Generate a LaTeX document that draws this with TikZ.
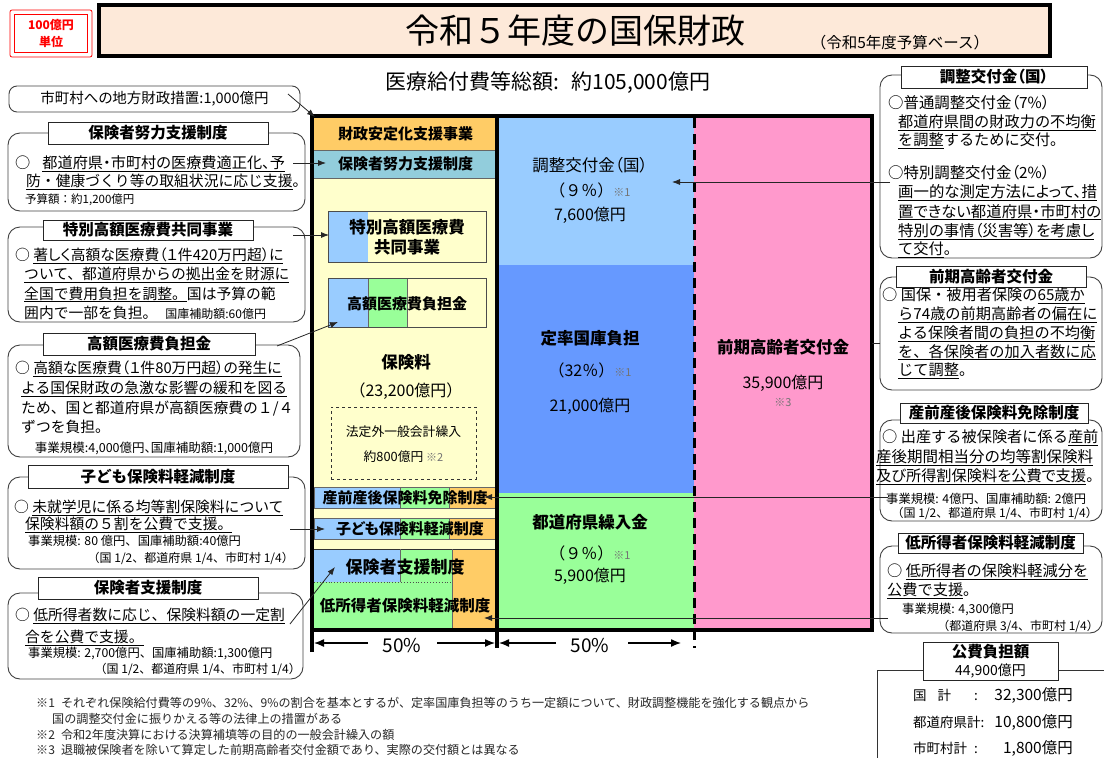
\documentclass[tikz,border=0pt]{standalone}
\usepackage{fontspec}
\setmainfont{Noto Sans CJK JP}
\newfontfamily\pfont{Noto Sans CJK JP}[RawFeature=+palt]
\usetikzlibrary{arrows.meta}
\newcommand\fs[1]{\fontsize{#1}{#1}\selectfont}
\newcommand\undl[1]{\underline{#1}}
\newcommand\kome[1]{{\color{black!55}\fs{11}※#1}}
\definecolor{peach}{HTML}{FDE9D9}
\definecolor{orng}{HTML}{FFCC66}
\definecolor{teal1}{HTML}{92CDDC}
\definecolor{ylw}{HTML}{FFFFCC}
\definecolor{lblue}{HTML}{99CCFF}
\definecolor{mblue}{HTML}{6699FF}
\definecolor{grn}{HTML}{99FF99}
\definecolor{pnk}{HTML}{FF99CC}
\tikzset{
  bt/.style={inner sep=0pt, anchor=base west, font=\fs{14.8}},
  rt/.style={inner sep=0pt, anchor=base west, font=\fs{15.2}},
  rtp/.style={inner sep=0pt, anchor=base west, font=\pfont\fs{15.4}},
  st/.style={inner sep=0pt, anchor=base west, font=\fs{12.3}},
  ste/.style={inner sep=0pt, anchor=base east, font=\fs{12}},
  rbox/.style={draw=black!75, line width=0.9pt, rounded corners=12pt, inner sep=0pt},
  tbox/.style={draw=black!85, line width=0.9pt, fill=white, inner sep=0pt, font=\bfseries\fs{15.5}},
  colt/.style={inner sep=0pt, font=\fs{16}},
  colh/.style={inner sep=0pt, font=\bfseries\fs{16.5}},
  bandt/.style={inner sep=0pt, font=\bfseries\pfont\fs{15}},
  conn/.style={draw=black!85, line width=0.8pt, -{Latex[length=8pt,width=6pt]}},
  seg/.style={draw=black!60, line width=0.6pt},
  note/.style={inner sep=0pt, anchor=base west, font=\fs{12.1}, text=black!85},
  pt/.style={inner sep=0pt, anchor=base west, font=\fs{13.5}},
  pv/.style={inner sep=0pt, anchor=base east, font=\fs{15.5}},
}
\begin{document}
\begin{tikzpicture}[x=1pt,y=-1pt]
\useasboundingbox (0,0) rectangle (1104,758);

% ---- unit box
\draw[red, line width=0.8pt, rounded corners=2pt] (10,10) rectangle (92,57);
\node[draw=red, line width=1.8pt, minimum width=73, minimum height=38, inner sep=0pt, text=red,
      font=\bfseries\fontsize{12}{17}\selectfont, align=center] (unit) at (51,33.5) {100億円\\単位};

% ---- title
\node[draw, line width=4pt, fill=peach, minimum width=951, minimum height=51, inner sep=0pt] (titlebox) at (574.5,30.5) {};
\node[inner sep=0pt, font=\fs{34}] (title) at (575,31) {令和５年度の国保財政};
\node[inner sep=0pt, font=\fs{15.5}] (subt) at (900,43) {（令和5年度予算ベース）};
\node[inner sep=0pt, font=\fs{21}] (total) at (548,83) {医療給付費等総額:\hspace{12pt}約105,000億円};

% ---- left column fills
\fill[ylw] (314,178) rectangle (497,628);
\node[bandt, fill=orng, minimum width=183, minimum height=33] (zaisei) at (405.5,133.5) {財政安定化支援事業};
\node[bandt, fill=teal1, minimum width=183, minimum height=28] (doryoku) at (405.5,164) {保険者努力支援制度};
\draw[seg] (314,150) -- (497,150);
\draw[seg] (314,178) -- (497,178);

% special high-cost box
\fill[lblue] (328,211) rectangle (368,262);
\node[draw=black!70, line width=0.8pt, minimum width=158, minimum height=51, inner sep=0pt] (tokubetsu) at (407,236.5) {};
\node[inner sep=0pt, font=\bfseries\fontsize{16.5}{20}\selectfont, align=center] (tokubetsuT) at (407,237) {特別高額医療費\\共同事業};

% high-cost box
\fill[lblue] (328,278) rectangle (368,327);
\fill[grn] (368,278) rectangle (407,327);
\draw[seg] (368,278) -- (368,327);
\draw[seg] (407,278) -- (407,327);
\node[draw=black!70, line width=0.8pt, minimum width=158, minimum height=49, inner sep=0pt] (kougaku) at (407,302.5) {};
\node[inner sep=0pt, font=\bfseries\fs{15}] (kougakuT) at (407,304) {高額医療費負担金};

% premiums
\node[colh] (hokenryo) at (406,362) {保険料};
\node[colt] (hokenryoV) at (406,391) {（23,200億円）};
\node[draw=black!80, dashed, line width=0.8pt, minimum width=145, minimum height=72, inner sep=0pt] (hoteigai) at (403.5,443) {};
\node[inner sep=0pt, font=\fs{12.8}] (hoteigaiT) at (403.5,432) {法定外一般会計繰入};
\node[inner sep=0pt, font=\fs{12.8}] (hoteigaiV) at (403.5,457) {約800億円 \kome{2}};

% band: childbirth
\fill[lblue] (314,487) rectangle (400,508);
\fill[grn] (400,487) rectangle (449,508);
\fill[orng] (449,487) rectangle (497,508);
\draw[seg] (314,487) rectangle (497,508);
\draw[seg] (400,487) -- (400,508);
\draw[seg] (449,487) -- (449,508);
\node[bandt] (sanzen) at (405,498) {産前産後保険料免除制度};

% band: children
\fill[lblue] (314,518) rectangle (400,539);
\fill[grn] (400,518) rectangle (449,539);
\fill[orng] (449,518) rectangle (497,539);
\draw[seg] (314,518) rectangle (497,539);
\draw[seg] (400,518) -- (400,539);
\draw[seg] (449,518) -- (449,539);
\node[bandt] (kodomo) at (410,529) {子ども保険料軽減制度};

% band: insurer support / low income
\fill[lblue] (314,549) rectangle (400,582);
\fill[grn] (400,549) rectangle (452,582);
\fill[grn] (314,582) rectangle (452,628);
\fill[orng] (452,549) rectangle (497,628);
\draw[black!80, line width=0.8pt] (314,549) -- (497,549);
\draw[seg] (400,549) -- (400,582);
\draw[seg] (452,549) -- (452,628);
\draw[black!70, dotted, line width=0.9pt] (314,582) -- (452,582);
\node[inner sep=0pt, font=\bfseries\fs{17}] (shien) at (405,567) {保険者支援制度};
\node[bandt, font=\bfseries\fs{15.5}] (teishotoku) at (405,606) {低所得者保険料軽減制度};

% ---- middle / right column fills
\fill[lblue] (497,116) rectangle (694,265);
\fill[mblue] (497,265) rectangle (694,493);
\fill[grn] (497,493) rectangle (694,628);
\fill[pnk] (694,116) rectangle (872,628);

\node[colh, font=\pfont\fs{16.5}] (chosei) at (590,165) {調整交付金（国）};
\node[colt] (choseiP) at (590,190) {（９％）\kome{1}};
\node[colt] (choseiV) at (590,215) {7,600億円};
\node[colh] (teiritsu) at (590,338) {定率国庫負担};
\node[colt] (teiritsuP) at (590,370) {（32％）\kome{1}};
\node[colt] (teiritsuV) at (590,406) {21,000億円};
\node[colh] (kenkuri) at (590,522) {都道府県繰入金};
\node[colt] (kenkuriP) at (590,553) {（９％）\kome{1}};
\node[colt] (kenkuriV) at (590,576) {5,900億円};
\node[colh] (zenki) at (783,347) {前期高齢者交付金};
\node[colt] (zenkiV) at (783,383) {35,900億円};
\node[inner sep=0pt] (zenkiK) at (783,402) {\kome{3}};

% ---- frame
\draw[line width=4pt] (312,652) -- (312,116) -- (872,116) -- (872,630) -- (310,630);
\draw[line width=4pt] (497,116) -- (497,648);
\draw[line width=3pt, dash pattern=on 10pt off 6pt] (694,118) -- (694,648);

% ---- bottom 50% arrows
\node[inner sep=0pt, font=\fs{19}] (pl) at (402,646) {50\%};
\node[inner sep=0pt, font=\fs{19}] (pr) at (590,646) {50\%};
\coordinate (pla) at (314,643); \coordinate (plb) at (368,643);
\coordinate (plc) at (437,643); \coordinate (pld) at (495,643);
\coordinate (pra) at (499,643); \coordinate (prb) at (556,643);
\coordinate (prc) at (628,643); \coordinate (prd) at (681,643);
\draw[line width=1.3pt, -{Latex[length=10pt,width=8pt]}] (plb) -- (pla);
\draw[line width=1.3pt, -{Latex[length=10pt,width=8pt]}] (plc) -- (pld);
\draw[line width=1.3pt, -{Latex[length=10pt,width=8pt]}] (prb) -- (pra);
\draw[line width=1.3pt, -{Latex[length=10pt,width=8pt]}] (prc) -- (prd);

% ---- left boxes
\node[rbox, rounded corners=8pt, minimum width=291, minimum height=26, font=\pfont\fs{14.5}] (L0) at (154.5,99) {市町村への地方財政措置:1,000億円};

\node[rbox, minimum width=297, minimum height=78] (L1) at (156.5,172) {};
\node[tbox, minimum width=220, minimum height=22] (L1t) at (158,133) {保険者努力支援制度};
\node[bt, font=\pfont\fs{15.2}] (L1a) at (15,168.5) {○\hspace{12pt}\undl{都道府県・市町村の医療費適正化、予}};
\node[bt] (L1b) at (26,186.5) {\undl{防・健康づくり等の取組状況に応じ支援}。};
\node[st, font=\fs{11.5}] (L1c) at (25,203) {予算額：約1,200億円};

\node[rbox, minimum width=297, minimum height=95] (L2) at (156.5,274.5) {};
\node[tbox, minimum width=210, minimum height=20] (L2t) at (148,230) {特別高額医療費共同事業};
\node[bt, font=\pfont\fs{14.8}] (L2a) at (15,260.5) {○ \undl{著しく高額な医療費（１件420万円超）に}};
\node[bt] (L2b) at (24,279.5) {\undl{ついて、都道府県からの拠出金を財源に}};
\node[bt] (L2c) at (24,299) {\undl{全国で費用負担を調整。}国は予算の範};
\node[bt] (L2d) at (24,318.5) {囲内で一部を負担。\hspace{8pt}{\pfont\fs{12}国庫補助額:60億円}};

\node[rbox, minimum width=292, minimum height=112] (L3) at (154,401) {};
\node[tbox, minimum width=212, minimum height=22] (L3t) at (149,344) {高額医療費負担金};
\node[bt, font=\pfont\fs{14.8}] (L3a) at (15,373.5) {○ \undl{高額な医療費（１件80万円超）の発生に}};
\node[bt] (L3b) at (21,393.5) {\undl{よる国保財政の急激な影響の緩和を図る}};
\node[bt] (L3c) at (21,413.5) {ため、国と都道府県が高額医療費の１/４};
\node[bt] (L3d) at (21,432.5) {ずつを負担。};
\node[inner sep=0pt, font=\pfont\fs{12.5}] (L3e) at (154,448) {事業規模:4,000億円、国庫補助額:1,000億円};

\node[rbox, minimum width=297, minimum height=92] (L4) at (156.5,523) {};
\node[tbox, minimum width=260, minimum height=23] (L4t) at (158,476.5) {子ども保険料軽減制度};
\node[bt] (L4a) at (14,512.5) {○ \undl{未就学児に係る均等割保険料について}};
\node[bt] (L4b) at (25,529.5) {\undl{保険料額の５割を公費で支援。}};
\node[st] (L4c) at (28,545.5) {事業規模: 80 億円、国庫補助額:40億円};
\node[ste] (L4d) at (294,562.5) {（国 1/2、都道府県 1/4、市町村 1/4）};

\node[rbox, minimum width=295, minimum height=86] (L5) at (155.5,636) {};
\node[tbox, minimum width=220, minimum height=22] (L5t) at (148,588) {保険者支援制度};
\node[bt] (L5a) at (15,620.5) {○ \undl{低所得者数に応じ、保険料額の一定割}};
\node[bt] (L5b) at (25,642.5) {\undl{合を公費で支援。}};
\node[st] (L5c) at (28,657.5) {事業規模: 2,700億円、国庫補助額:1,300億円};
\node[ste] (L5d) at (301,673.5) {（国 1/2、都道府県 1/4、市町村 1/4）};

% ---- right boxes
\node[rbox, minimum width=222, minimum height=183] (R1) at (991,166.5) {};
\node[tbox, minimum width=186, minimum height=22, font=\bfseries\pfont\fs{15.5}] (R1t) at (994,77) {調整交付金（国）};
\node[rtp] (R1a) at (888,108.5) {○普通調整交付金（7\%）};
\node[rt] (R1b) at (898,127.5) {\undl{都道府県間の財政力の不均衡}};
\node[rt] (R1c) at (898,145.5) {\undl{を調整}するために交付。};
\node[rtp] (R1d) at (888,178.5) {○特別調整交付金（2\%）};
\node[rtp] (R1e) at (898,197.5) {\undl{画一的な測定方法によって、措}};
\node[rtp] (R1f) at (898,217) {\undl{置できない都道府県・市町村の}};
\node[rtp] (R1g) at (898,236.5) {\undl{特別の事情（災害等）を考慮し}};
\node[rt] (R1h) at (898,254.5) {\undl{て交付}。};

\node[rbox, minimum width=222, minimum height=113] (R2) at (991,333.5) {};
\node[tbox, minimum width=190, minimum height=21] (R2t) at (991,276.5) {前期高齢者交付金};
\node[rt] (R2a) at (882,300.5) {○ 国保・被用者保険の\undl{65歳か}};
\node[rt] (R2b) at (898,319.5) {\undl{ら74歳の前期高齢者の偏在に}};
\node[rt] (R2c) at (898,338.5) {\undl{よる保険者間の負担の不均衡}};
\node[rt] (R2d) at (898,357) {\undl{を、各保険者の加入者数に応}};
\node[rt] (R2e) at (898,375.5) {\undl{じて調整}。};

\node[rbox, minimum width=222, minimum height=101] (R3) at (991,470.5) {};
\node[tbox, minimum width=188, minimum height=20] (R3t) at (994,413) {産前産後保険料免除制度};
\node[rt] (R3a) at (882,442.5) {○ 出産する被保険者に係る\undl{産前}};
\node[rt, font=\fs{15.5}] (R3b) at (876,462.5) {\undl{産後期間相当分の均等割保険料}};
\node[rt, font=\pfont\fs{15.2}] (R3c) at (876,481.5) {\undl{及び所得割保険料を公費で支援}。};
\node[st] (R3d) at (886,503) {事業規模: 4億円、国庫補助額: 2億円};
\node[ste] (R3e) at (1098,517.5) {（国 1/2、都道府県 1/4、市町村 1/4）};

\node[rbox, minimum width=222, minimum height=87] (R4) at (991,589.5) {};
\node[tbox, minimum width=185, minimum height=20] (R4t) at (990.5,543) {低所得者保険料軽減制度};
\node[rt] (R4a) at (887,576.5) {○ \undl{低所得者の保険料軽減分を}};
\node[rt] (R4b) at (887,595.5) {\undl{公費で支援}。};
\node[st] (R4c) at (902,613.5) {事業規模: 4,300億円};
\node[ste] (R4d) at (1099,630.5) {（都道府県 3/4、市町村 1/4）};

% public burden box
\draw[black!80, line width=0.9pt] (1110,670) -- (877,670) -- (877,765);
\node[tbox, minimum width=135, minimum height=38, align=center, font=\bfseries\fontsize{15.5}{18}\selectfont] (R5t) at (990.5,661) {公費負担額\\{\mdseries\fs{14}44,900億円}};
\node[pt] (R5a) at (913,700) {国\hspace{11pt}計};
\node[pt] (R5b) at (913,727) {都道府県計:};
\node[pt] (R5c) at (913,753) {市町村計};
\node[pt] (R5ac) at (974,700) {:};
\node[pt] (R5cc) at (974,753) {:};
\node[pv] (R5av) at (1073,700) {32,300億円};
\node[pv] (R5bv) at (1073,727) {10,800億円};
\node[pv] (R5cv) at (1073,753) {1,800億円};

% ---- connectors
\coordinate (c0s) at (288,94);  \coordinate (c0e) at (315,117);
\coordinate (c1s) at (293,163); \coordinate (c1e) at (326,163);
\coordinate (c2s) at (293,235); \coordinate (c2e) at (329,235);
\coordinate (c3s) at (277,346); \coordinate (c3e) at (338,322);
\coordinate (c4s) at (290,529); \coordinate (c4e) at (325,529);
\coordinate (c5s) at (290,624); \coordinate (c5e) at (335,567);
\draw[conn] (c0s) -- (c0e);
\draw[conn] (c1s) -- (c1e);
\draw[conn] (c2s) -- (c2e);
\draw[conn] (c3s) -- (c3e);
\draw[conn] (c4s) -- (c4e);
\draw[conn] (c5s) -- (c5e);
\coordinate (r1s) at (890,182); \coordinate (r1e) at (672,182);
\coordinate (r2s) at (880,343); \coordinate (r2e) at (872,343);
\coordinate (r3s) at (888,497); \coordinate (r3e) at (484,497);
\coordinate (r4s) at (888,618); \coordinate (r4e) at (484,618);
\draw[conn] (r1s) -- (r1e);
\draw[black!85, line width=0.8pt] (r2s) -- (r2e);
\draw[conn] (r3s) -- (r3e);
\draw[conn] (r4s) -- (r4e);

% ---- notes
\node[note] (n1) at (36,707) {※1\hspace{6pt}それぞれ保険給付費等の9\%、32\%、9\%の割合を基本とするが、定率国庫負担等のうち一定額について、財政調整機能を強化する観点から};
\node[note] (n1b) at (52,723) {国の調整交付金に振りかえる等の法律上の措置がある};
\node[note] (n2) at (36,739) {※2\hspace{6pt}令和2年度決算における決算補填等の目的の一般会計繰入の額};
\node[note] (n3) at (36,754) {※3\hspace{6pt}退職被保険者を除いて算定した前期高齢者交付金額であり、実際の交付額とは異なる};
\end{tikzpicture}
\end{document}
